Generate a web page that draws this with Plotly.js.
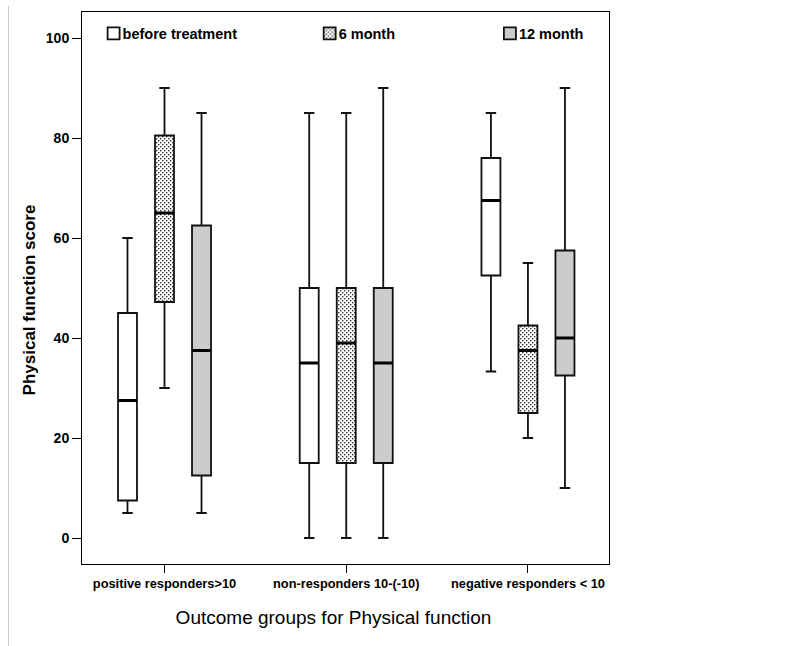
<!DOCTYPE html>
<html>
<head>
<meta charset="utf-8">
<script src="https://cdn.plot.ly/plotly-3.0.1.min.js"></script>
<style>
  html, body { margin: 0; padding: 0; background: #fff; }
  #chart { width: 794px; height: 646px; }
</style>
</head>
<body>
<div id="chart"></div>
<script>
// ---- data ----
const categories = ["positive responders>10", "non-responders 10-(-10)", "negative responders < 10"];
const seriesNames = ["before treatment", "6 month", "12 month"];

const beforeLower  = [5, 0, 33.3];
const beforeQ1     = [7.5, 15, 52.5];
const beforeMedian = [27.5, 35, 67.5];
const beforeQ3     = [45, 50, 76];
const beforeUpper  = [60, 85, 85];

const m6Lower  = [30, 0, 20];
const m6Q1     = [47.2, 15, 25];
const m6Median = [65, 39, 37.5];
const m6Q3     = [80.5, 50, 42.5];
const m6Upper  = [90, 85, 55];

const m12Lower  = [5, 0, 10];
const m12Q1     = [12.5, 15, 32.5];
const m12Median = [37.5, 35, 40];
const m12Q3     = [62.5, 50, 57.5];
const m12Upper  = [85, 90, 90];

const yTicks = [0, 20, 40, 60, 80, 100];

// ---- styling ----
const FONT = "Liberation Sans, Arial, sans-serif";
const fills = ["#ffffff", "#ffffff", "#cccccc"];
const groups = ["g0", "g1", "g2"];
const legends = ["legend", "legend2", "legend3"];

const stats = [
  [beforeLower, beforeQ1, beforeMedian, beforeQ3, beforeUpper],
  [m6Lower, m6Q1, m6Median, m6Q3, m6Upper],
  [m12Lower, m12Q1, m12Median, m12Q3, m12Upper]
];

const traces = [];
stats.forEach((s, i) => {
  traces.push({
    type: "box",
    name: seriesNames[i],
    x: categories,
    lowerfence: s[0], q1: s[1], median: s[2], q3: s[3], upperfence: s[4],
    fillcolor: fills[i],
    line: { color: "#111111", width: 1.8 },
    whiskerwidth: 0.55,
    offsetgroup: groups[i],
    legend: legends[i],
    hoverinfo: "skip"
  });
});
// thick median lines overlaid on each box
stats.forEach((s, i) => {
  traces.push({
    type: "box",
    name: seriesNames[i] + " median",
    x: categories,
    lowerfence: s[2], q1: s[2], median: s[2], q3: s[2], upperfence: s[2],
    fillcolor: "rgba(0,0,0,0)",
    line: { color: "#000000", width: 3 },
    whiskerwidth: 0,
    offsetgroup: groups[i],
    showlegend: false,
    hoverinfo: "skip"
  });
});

const legendBase = {
  orientation: "h", yanchor: "middle", y: 0.961, xanchor: "left",
  bgcolor: "rgba(0,0,0,0)", borderwidth: 0,
  font: { family: FONT, size: 14.5, color: "#000", weight: "bold" }
};

const layout = {
  width: 794, height: 646,
  margin: { l: 82, r: 185, t: 12, b: 82 },
  paper_bgcolor: "#ffffff", plot_bgcolor: "#ffffff",
  font: { family: FONT, color: "#000" },
  boxmode: "group",
  boxgap: 0.389,
  boxgroupgap: 0.487,
  xaxis: {
    type: "category",
    range: [-0.454, 2.446],
    showline: true, mirror: true, linecolor: "#000", linewidth: 1,
    ticks: "outside", ticklen: 8, tickcolor: "#000",
    showgrid: false, zeroline: false,
    tickfont: { family: FONT, size: 12.8, color: "#000", weight: "bold" },
    title: { text: "Outcome groups for Physical function", standoff: 20,
             font: { family: FONT, size: 19, color: "#000" } }
  },
  yaxis: {
    range: [-5.2, 105.2],
    tickvals: yTicks,
    showline: true, mirror: true, linecolor: "#000", linewidth: 1,
    ticks: "outside", ticklen: 9, tickcolor: "#000",
    showgrid: false, zeroline: false,
    tickfont: { family: FONT, size: 14, color: "#000", weight: "bold" },
    title: { text: "Physical function score", standoff: 5,
             font: { family: FONT, size: 17, color: "#000", weight: "bold" } }
  },
  legend:  Object.assign({}, legendBase, { x: 0.022 }),
  legend2: Object.assign({}, legendBase, { x: 0.432 }),
  legend3: Object.assign({}, legendBase, { x: 0.774 }),
  shapes: [{
    type: "line", xref: "paper", yref: "paper",
    x0: -0.1395, x1: -0.1395, y0: -0.16, y1: 1.011,
    line: { color: "#c8c8c8", width: 1 }
  }]
};

const gd = document.getElementById("chart");
const svgNS = "http://www.w3.org/2000/svg";

function finish() {
  // dotted texture for the "6 month" series (box bodies and legend symbol)
  const defs = gd.querySelector("svg.main-svg defs");
  if (defs && !defs.querySelector("#dotfill")) {
    const pat = document.createElementNS(svgNS, "pattern");
    pat.setAttribute("id", "dotfill");
    pat.setAttribute("patternUnits", "userSpaceOnUse");
    pat.setAttribute("width", "4");
    pat.setAttribute("height", "4");
    const bg = document.createElementNS(svgNS, "rect");
    bg.setAttribute("width", "4"); bg.setAttribute("height", "4"); bg.setAttribute("fill", "#ffffff");
    pat.appendChild(bg);
    [[0, 0], [2, 2]].forEach(p => {
      const d = document.createElementNS(svgNS, "rect");
      d.setAttribute("x", p[0]); d.setAttribute("y", p[1]);
      d.setAttribute("width", "1.4"); d.setAttribute("height", "1.4");
      d.setAttribute("fill", "#333333");
      pat.appendChild(d);
    });
    defs.appendChild(pat);
  }
  const boxTraces = gd.querySelectorAll(".boxlayer .trace");
  if (boxTraces[1]) {
    boxTraces[1].querySelectorAll("path.box").forEach(p => { p.style.fill = "url(#dotfill)"; });
  }
  const leg2 = gd.querySelector("g.legend2 .legendpoints path");
  if (leg2) leg2.style.fill = "url(#dotfill)";
  // legend text sits right next to its symbol, as in the reference
  gd.querySelectorAll("g.traces > text").forEach(t => {
    if (t.getAttribute("x") !== "29") t.setAttribute("x", "29");
  });
  // axis titles are slightly off-centre in the reference
  const xt = gd.querySelector("text.xtitle");
  if (xt && !xt.dataset.moved) {
    xt.setAttribute("transform", "translate(-12,0) " + (xt.getAttribute("transform") || ""));
    xt.dataset.moved = "1";
  }
  const yt = gd.querySelector("text.ytitle");
  if (yt && !yt.dataset.moved) {
    yt.setAttribute("transform", "translate(0,12) " + (yt.getAttribute("transform") || ""));
    yt.dataset.moved = "1";
  }
}

Plotly.newPlot(gd, traces, layout, { displayModeBar: false, staticPlot: true }).then(() => {
  finish();
  requestAnimationFrame(finish);
  setTimeout(finish, 50);
});
</script>
</body>
</html>
